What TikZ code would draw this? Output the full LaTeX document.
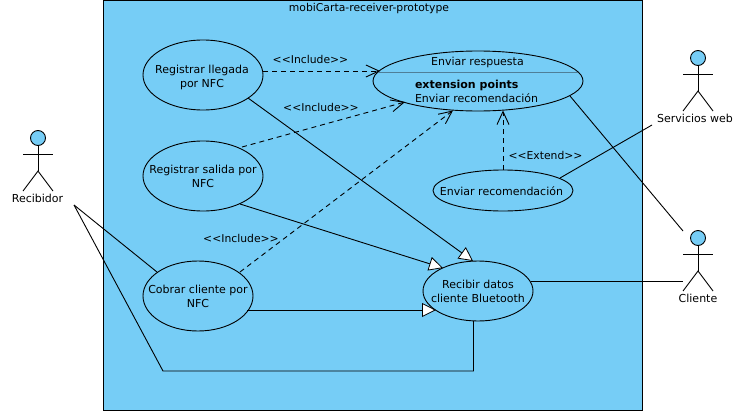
\documentclass[tikz,border=0pt]{standalone}
\usepackage{fontspec}
\setmainfont{DejaVu Sans}
\usetikzlibrary{arrows.meta,shapes.geometric,calc}
\definecolor{umlblue}{HTML}{76CDF6}
\definecolor{sepgrey}{HTML}{4F7F98}
\tikzset{
  usecase/.style={ellipse,draw=black,fill=umlblue,line width=0.9pt,inner sep=0pt,outer sep=0pt},
  txt/.style={inner sep=0pt,outer sep=0pt,align=center,font=\fontsize{11}{14}\selectfont},
  lbl/.style={inner sep=0pt,outer sep=0pt,font=\fontsize{10.8}{14}\selectfont},
  assoc/.style={draw=black,line width=0.9pt},
  dep/.style={draw=black,line width=0.9pt,dash pattern=on 5pt off 4pt,-{Straight Barb[length=13pt,width=12pt,line width=0.9pt]}},
  gen/.style={assoc,-{Triangle[length=14pt,width=14pt,fill=white,line width=0.8pt]}},
  actorbox/.style={minimum width=30pt,minimum height=60pt,inner sep=0pt,outer sep=0pt},
  actorline/.style={draw=black,line width=0.9pt}
}
\newcommand{\umlactor}[5]{%
  \node[actorbox] (#1) at (#2,#3) {};
  \draw[actorline,fill=umlblue] (#2,#3-23) circle (7.5pt);
  \draw[actorline] (#2,#3-15.5) -- (#2,#3+10);
  \draw[actorline] (#2-15,#3-7) -- (#2+15,#3-7);
  \draw[actorline] (#2-15,#3+30) -- (#2,#3+10) -- (#2+15,#3+30);
  \node[txt] (#1label) at (#2+#5,#3+37) {#4};
}
\begin{document}
\begin{tikzpicture}[x=1pt,y=-1pt]
\useasboundingbox (0,0) rectangle (749,415);
\node[draw=black,fill=umlblue,line width=0.9pt,minimum width=539pt,minimum height=410pt,inner sep=0pt,outer sep=0pt] (frame) at (372.5,205) {};
\node[lbl] (title) at (369,8.5) {mobiCarta-receiver-prototype};

\umlactor{recibidor}{38}{161}{Recibidor}{-0.5}
\umlactor{servicios}{698}{81}{Servicios web}{-3}
\umlactor{cliente}{698}{261}{Cliente}{0}

\node[usecase,minimum width=120pt,minimum height=70pt] (llegada) at (203,75) {};
\node[usecase,minimum width=120pt,minimum height=70pt] (salida) at (203,176) {};
\node[usecase,minimum width=110pt,minimum height=70pt] (cobrar) at (198,296) {};
\node[usecase,minimum width=110pt,minimum height=60pt] (recibir) at (478,291) {};
\node[usecase,minimum width=210pt,minimum height=60pt] (respuesta) at (478,81) {};
\node[usecase,minimum width=140pt,minimum height=41pt] (recomend) at (503,190.5) {};

\node[txt] (llegadat) at (202,77.5) {Registrar llegada\\por NFC};
\node[txt] (salidat) at (203,176.5) {Registrar salida por\\NFC};
\node[txt] (cobrart) at (198,296.5) {Cobrar cliente por\\NFC};
\node[txt] (recibirt) at (478,291.5) {Recibir datos\\cliente Bluetooth};
\node[txt] (recomendt) at (501.5,191.5) {Enviar recomendación};

\coordinate (sepL) at (378,72);
\coordinate (sepR) at (578,72);
\draw[sepgrey,line width=0.9pt] (sepL) -- (sepR);
\node[txt] (respt) at (477.5,62.5) {Enviar respuesta};
\node[txt,anchor=west] (extp) at (415,85.5) {\textbf{extension points}};
\node[txt,anchor=west] (extr) at (415,98.5) {Enviar recomendación};

\coordinate (recibidorEnd) at (74,205);
\coordinate (bend1) at (163,371);
\coordinate (bend2) at (473.5,371);
\coordinate (serviciosEnd) at (652,125);

\draw[dep] ($(llegada)+(60,-4)$) -- ($(respuesta)+(-98,-10)$);
\draw[dep] ($(salida)+(39,-29)$) -- ($(respuesta)+(-73,21)$);
\draw[dep] ($(cobrar)+(42,-24)$) -- ($(respuesta)+(-25,29.5)$);
\draw[dep] (recomend.north) -- ($(respuesta)+(25,29.5)$);

\draw[gen] ($(llegada)+(45,23)$) -- ($(recibir)+(-5,-30)$);
\draw[gen] ($(salida)+(37,28)$) -- ($(recibir)+(-35,-23)$);
\draw[gen] ($(cobrar)+(49,14)$) -- ($(recibir)+(-42,19)$);

\draw[assoc] (recibidorEnd) -- ($(cobrar)+(-41,-24)$);
\draw[assoc,line join=miter] (recibidorEnd) -- (bend1) -- (bend2) -- ($(recibir)+(-4.5,30)$);
\draw[assoc] ($(recibir)+(52.5,-10)$) -- ($(cliente)+(-15,20)$);
\draw[assoc] ($(respuesta)+(92,15)$) -- (cliente.north west);
\draw[assoc] ($(recomend)+(57,-12.5)$) -- (serviciosEnd);

\node[lbl] (inc1) at (310.5,59) {<{}<Include>{}>};
\node[lbl] (inc2) at (321,107.5) {<{}<Include>{}>};
\node[lbl] (inc3) at (241,238) {<{}<Include>{}>};
\node[lbl] (ext) at (545.5,155) {<{}<Extend>{}>};
\end{tikzpicture}
\end{document}
